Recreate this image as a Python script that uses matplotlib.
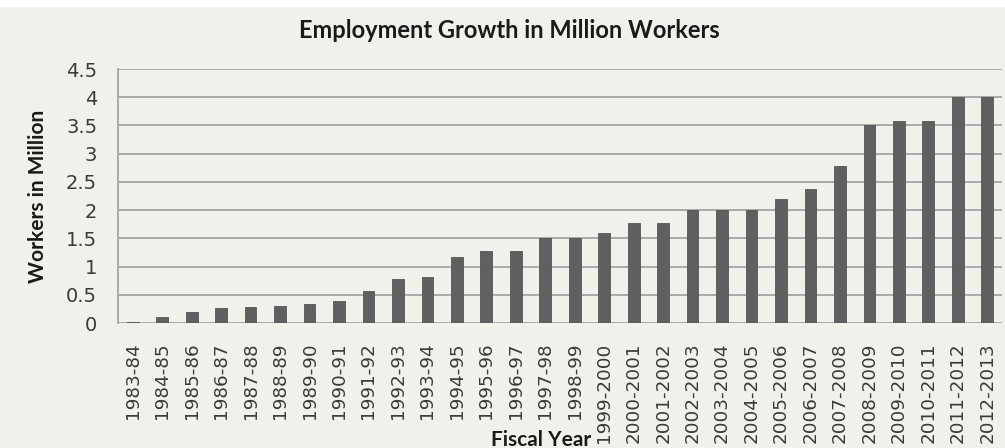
import matplotlib.pyplot as plt
from matplotlib.patches import Rectangle

# Fiscal years and employment growth (million workers)
years = [
    "1983-84", "1984-85", "1985-86", "1986-87", "1987-88", "1988-89",
    "1989-90", "1990-91", "1991-92", "1992-93", "1993-94", "1994-95",
    "1995-96", "1996-97", "1997-98", "1998-99", "1999-2000", "2000-2001",
    "2001-2002", "2002-2003", "2003-2004", "2004-2005", "2005-2006",
    "2006-2007", "2007-2008", "2008-2009", "2009-2010", "2010-2011",
    "2011-2012", "2012-2013",
]
workers = [
    0.02, 0.1, 0.2, 0.26, 0.28, 0.3, 0.33, 0.39, 0.56, 0.78,
    0.81, 1.17, 1.28, 1.28, 1.5, 1.5, 1.6, 1.78, 1.78, 2.0,
    2.0, 2.0, 2.2, 2.38, 2.78, 3.5, 3.58, 3.58, 4.0, 4.0,
]
y_ticks = [0, 0.5, 1, 1.5, 2, 2.5, 3, 3.5, 4, 4.5]
y_tick_labels = ["0", "0.5", "1", "1.5", "2", "2.5", "3", "3.5", "4", "4.5"]

bg = "#f1f0eb"
grid_col = "#aaaaaa"

fig = plt.figure(figsize=(10.05, 4.48), dpi=100, facecolor="white")
fig.patches.append(Rectangle((0, 0), 1, 441 / 448, transform=fig.transFigure,
                             facecolor=bg, edgecolor="none", zorder=-10))

ax = fig.add_axes([118 / 1005, 125 / 448, 884 / 1005, 254 / 448])
ax.set_facecolor(bg)

x = range(len(years))
ax.bar(x, workers, width=0.4, color="#606060", edgecolor="#555555",
       linewidth=0.6, zorder=3)

ax.set_xlim(-0.5, len(years) - 0.5)
ax.set_ylim(0, 4.5)
ax.set_yticks(y_ticks)
ax.set_yticklabels(y_tick_labels, fontsize=14, color="#3a3a3a",
                   family=["DejaVu Sans"])
ax.set_xticks(list(x))
ax.set_xticklabels(years, rotation=90, fontsize=13.2, color="#3a3a3a",
                   family=["DejaVu Sans"])
ax.tick_params(axis="x", length=0, pad=14)
ax.tick_params(axis="y", length=0, pad=15)

ax.grid(axis="y", color=grid_col, linewidth=1.4, zorder=0)
for side in ["top", "right", "bottom"]:
    ax.spines[side].set_visible(False)
ax.spines["left"].set_color(grid_col)
ax.spines["left"].set_linewidth(1.4)

fig.text(509 / 1005, 1 - 30 / 448, "Employment Growth in Million Workers",
         ha="center", va="center", fontsize=17, fontweight="bold",
         family=["Lato", "DejaVu Sans"], color="#1a1a1a")
fig.text(38 / 1005, 1 - 196 / 448, "Workers in Million", rotation=90,
         ha="center", va="center", fontsize=15, fontweight="bold",
         family=["Lato", "DejaVu Sans"], color="#1a1a1a")
fig.text(541 / 1005, 1 - 440 / 448, "Fiscal Year",
         ha="center", va="center", fontsize=15, fontweight="bold",
         family=["Lato", "DejaVu Sans"], color="#1a1a1a")

fig.savefig("out.png", dpi=100, facecolor=fig.get_facecolor())
